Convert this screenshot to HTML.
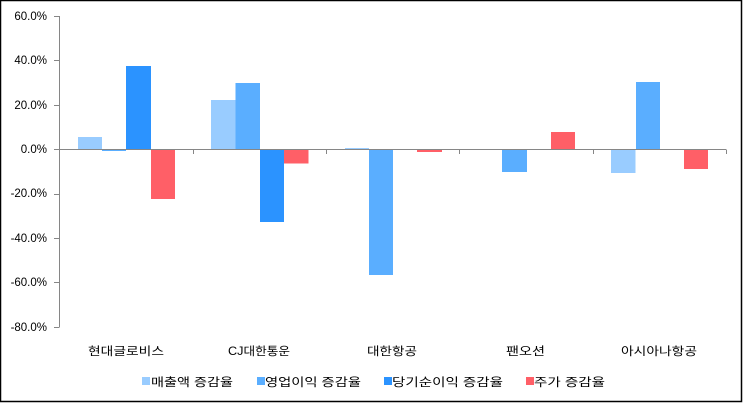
<!DOCTYPE html>
<html><head><meta charset="utf-8"><style>
html,body{margin:0;padding:0;background:#fff}
svg{display:block}
text{font-family:"Liberation Sans","Noto Sans CJK KR",sans-serif;font-size:11.5px;fill:#000}
</style></head><body>
<svg width="743" height="403" viewBox="0 0 743 403" xmlns="http://www.w3.org/2000/svg">
<rect x="0.5" y="0.5" width="741" height="401" fill="#fff" stroke="#000" stroke-width="1.5"/>
<g text-anchor="end">
<text x="47" y="20">60.0%</text>
<text x="47" y="64">40.0%</text>
<text x="47" y="109">20.0%</text>
<text x="47" y="153">0.0%</text>
<text x="47" y="197">-20.0%</text>
<text x="47" y="242">-40.0%</text>
<text x="47" y="286">-60.0%</text>
<text x="47" y="331">-80.0%</text>
</g>
<g fill="#99CCFF">
<rect x="78" y="137" width="24" height="12.5"/>
<rect x="211" y="100" width="24.5" height="49.5"/>
<rect x="345" y="148" width="24" height="1.5"/>
<rect x="611" y="149.5" width="24.5" height="23.5"/>
</g>
<g fill="#5AAEFF">
<rect x="102" y="149.5" width="24" height="1.5"/>
<rect x="235.5" y="83" width="24.5" height="66.5"/>
<rect x="369" y="149.5" width="24" height="125.5"/>
<rect x="502" y="149.5" width="25" height="22.5"/>
<rect x="636" y="82" width="24" height="67.5"/>
</g>
<g fill="#2B93FF">
<rect x="126" y="66" width="25" height="83.5"/>
<rect x="260" y="149.5" width="24" height="72.5"/>
</g>
<g fill="#FF5F67">
<rect x="151" y="149.5" width="24" height="49.5"/>
<rect x="284" y="149.5" width="24.5" height="14"/>
<rect x="417" y="149.5" width="25" height="2.5"/>
<rect x="551" y="132" width="24" height="17.5"/>
<rect x="684" y="149.5" width="24" height="19.5"/>
</g>
<g stroke="#868686" stroke-width="1">
<line x1="59.5" y1="16" x2="59.5" y2="327"/>
<line x1="59.5" y1="149.5" x2="726" y2="149.5"/>
<line x1="54" y1="16.5" x2="59.5" y2="16.5"/>
<line x1="54" y1="60.5" x2="59.5" y2="60.5"/>
<line x1="54" y1="105.5" x2="59.5" y2="105.5"/>
<line x1="54" y1="149.5" x2="59.5" y2="149.5"/>
<line x1="54" y1="194.5" x2="59.5" y2="194.5"/>
<line x1="54" y1="238.5" x2="59.5" y2="238.5"/>
<line x1="54" y1="282.5" x2="59.5" y2="282.5"/>
<line x1="54" y1="327.5" x2="59.5" y2="327.5"/>
<line x1="193.5" y1="149.5" x2="193.5" y2="154"/>
<line x1="326.5" y1="149.5" x2="326.5" y2="154"/>
<line x1="459.5" y1="149.5" x2="459.5" y2="154"/>
<line x1="593.5" y1="149.5" x2="593.5" y2="154"/>
<line x1="726.5" y1="149.5" x2="726.5" y2="154"/>
</g>
<g style="font-size:13px">
<text x="88" y="355" textLength="76" lengthAdjust="spacingAndGlyphs">현대글로비스</text>
<text x="228" y="355" textLength="62" lengthAdjust="spacingAndGlyphs">CJ대한통운</text>
<text x="367" y="355" textLength="50" lengthAdjust="spacingAndGlyphs">대한항공</text>
<text x="506" y="355" textLength="39" lengthAdjust="spacingAndGlyphs">팬오션</text>
<text x="621" y="355" textLength="76" lengthAdjust="spacingAndGlyphs">아시아나항공</text>
</g>
<g style="font-size:13px">
<rect x="142" y="377" width="8" height="8" fill="#99CCFF"/>
<text x="151" y="386" textLength="82" lengthAdjust="spacingAndGlyphs">매출액 증감율</text>
<rect x="257" y="377" width="8" height="8" fill="#5AAEFF"/>
<text x="265" y="386" textLength="96" lengthAdjust="spacingAndGlyphs">영업이익 증감율</text>
<rect x="384" y="377" width="8" height="8" fill="#2B93FF"/>
<text x="392" y="386" textLength="111" lengthAdjust="spacingAndGlyphs">당기순이익 증감율</text>
<rect x="526" y="377" width="8" height="8" fill="#FF5F67"/>
<text x="534" y="386" textLength="71" lengthAdjust="spacingAndGlyphs">주가 증감율</text>
</g>
</svg>
</body></html>
